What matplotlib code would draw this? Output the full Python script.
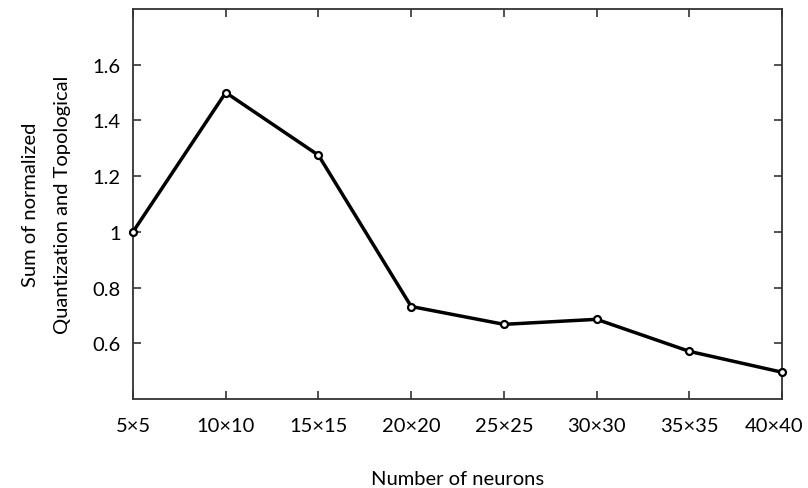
import matplotlib
matplotlib.use("Agg")
import matplotlib.pyplot as plt
from matplotlib.transforms import ScaledTranslation

# grid sizes and summed normalized errors
grid_labels = ['5×5', '10×10', '15×15', '20×20', '25×25', '30×30', '35×35', '40×40']
error_sum = [1.0, 1.5, 1.275, 0.732, 0.668, 0.686, 0.571, 0.496]
y_ticks = [0.6, 0.8, 1.0, 1.2, 1.4, 1.6]
y_tick_labels = ['0.6', '0.8', '1', '1.2', '1.4', '1.6']

plt.rcParams['font.family'] = ['Lato', 'DejaVu Sans']

fig = plt.figure(figsize=(8.08, 4.89), dpi=100)
ax = fig.add_axes([0.1646, 0.182, 0.8034, 0.7976])

x = range(len(grid_labels))
ax.plot(x, error_sum, color='black', linewidth=2.5, marker='o', markersize=5,
        markerfacecolor='white', markeredgecolor='black', markeredgewidth=1.6,
        clip_on=False, zorder=3)

ax.set_xlim(0, len(grid_labels) - 1)
ax.set_ylim(0.4, 1.8)
ax.set_xticks(list(x))
ax.set_xticklabels(grid_labels)
ax.set_yticks(y_ticks)
ax.set_yticklabels(y_tick_labels)

ax.tick_params(direction='in', top=True, right=True, length=6, width=1.2,
               color='#333333', labelsize=14.5, pad=9)
ax.tick_params(axis='x', pad=13)
for s in ax.spines.values():
    s.set_color('#333333')
    s.set_linewidth(1.3)

# nudge the last label so it stays inside the figure
last = ax.get_xticklabels()[-1]
last.set_transform(last.get_transform() + ScaledTranslation(-0.08, 0, fig.dpi_scale_trans))

ax.set_xlabel('Number of neurons', fontsize=14.5, labelpad=26)
ax.set_ylabel('Sum of normalized\nQuantization and Topological', fontsize=14.5,
              labelpad=15, linespacing=2.1)

fig.savefig('out.png', dpi=100)
